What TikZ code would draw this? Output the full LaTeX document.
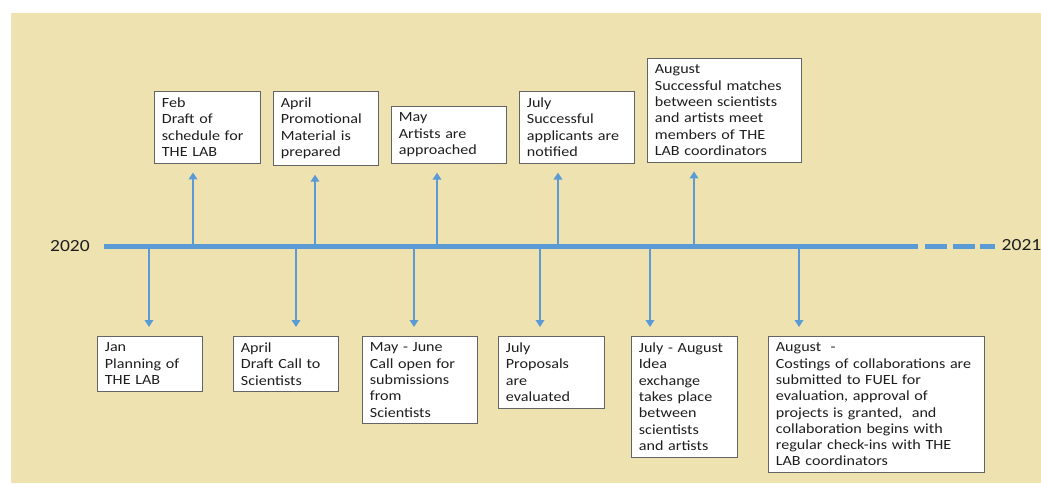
\documentclass[tikz,border=0pt]{standalone}
\usepackage{fontspec}
\setmainfont{Carlito}[FakeStretch=1.15]
\usetikzlibrary{arrows.meta}
\definecolor{paper}{RGB}{238,226,176}
\definecolor{lineblue}{RGB}{91,155,213}
\definecolor{boxgray}{RGB}{100,100,100}
\definecolor{ink}{RGB}{30,30,30}
\begin{document}
\begin{tikzpicture}[x=1pt,y=-1pt,
  event/.style={draw=boxgray, line width=0.8pt, fill=white, anchor=north west,
    align=left, inner xsep=7.5pt, inner ysep=6.5pt, text=ink,
    font=\fontsize{14}{16.3}\selectfont},
  arr/.style={draw=lineblue, line width=2.5pt, shorten >=9pt,
    -{Triangle[width=8.5pt,length=7pt]}},
  year/.style={inner sep=0pt, text=ink, font=\fontsize{17}{20}\selectfont}]
\useasboundingbox (0,0) rectangle (1041,483);
\fill[paper] (11,13) rectangle (1041,483);

% timeline
\coordinate (start) at (104,246);
\coordinate (solid) at (918,246);
\coordinate (gap) at (925,246);
\coordinate (stop) at (995,246);
\path[draw=lineblue, line width=5pt] (start) -- (solid);
\path[draw=lineblue, line width=5pt, dash pattern=on 22pt off 5.5pt] (gap) -- (stop);
\node[year, anchor=east] (y2020) at (90,246) {2020};
\node[year, anchor=west] (y2021) at (1001.5,245) {2021};

% events above the line
\node[event, text width=91pt] (feb) at (154,91) {Feb\\Draft of\\schedule for\\THE LAB};
\node[event, text width=90pt] (promo) at (273,91) {April\\Promotional\\Material is\\prepared};
\node[event, text width=100pt] (may) at (391,106) {May\\Artists are\\approached};
\node[event, text width=100pt] (notify) at (519,91) {July\\Successful\\applicants are\\notified};
\node[event, text width=139pt] (match) at (647,58) {August\\Successful matches\\between scientists\\and artists meet\\members of THE\\LAB coordinators};

% events below the line
\node[event, text width=90pt] (jan) at (97,336) {Jan\\Planning of\\THE LAB};
\node[event, text width=90pt] (call) at (233,336) {April\\Draft Call to\\Scientists};
\node[event, text width=100pt] (open) at (362,336) {May - June\\Call open for\\submissions\\from\\Scientists};
\node[event, text width=91pt] (eval) at (498,336) {July\\Proposals\\are\\evaluated};
\node[event, text width=91pt] (idea) at (631,336) {July - August\\Idea\\exchange\\takes place\\between\\scientists\\and artists};
\node[event, text width=201pt] (cost) at (768,336) {August~~-\\Costings of collaborations are\\submitted to FUEL for\\evaluation, approval of\\projects is granted,~~and\\collaboration begins with\\regular check-ins with THE\\LAB coordinators};

% points on the line
\coordinate (tfeb) at (193,246);
\coordinate (tpromo) at (315,246);
\coordinate (tmay) at (437,246);
\coordinate (tnotify) at (558,246);
\coordinate (tmatch) at (694,246);
\coordinate (tjan) at (149,246);
\coordinate (tcall) at (296,246);
\coordinate (topen) at (414,246);
\coordinate (teval) at (540,246);
\coordinate (tidea) at (650,246);
\coordinate (tcost) at (799,246);

\path[arr] (tfeb) -- (tfeb |- feb.south);
\path[arr] (tpromo) -- (tpromo |- promo.south);
\path[arr] (tmay) -- (tmay |- may.south);
\path[arr] (tnotify) -- (tnotify |- notify.south);
\path[arr] (tmatch) -- (tmatch |- match.south);
\path[arr] (tjan) -- (tjan |- jan.north);
\path[arr] (tcall) -- (tcall |- call.north);
\path[arr] (topen) -- (topen |- open.north);
\path[arr] (teval) -- (teval |- eval.north);
\path[arr] (tidea) -- (tidea |- idea.north);
\path[arr] (tcost) -- (tcost |- cost.north);
\end{tikzpicture}
\end{document}
